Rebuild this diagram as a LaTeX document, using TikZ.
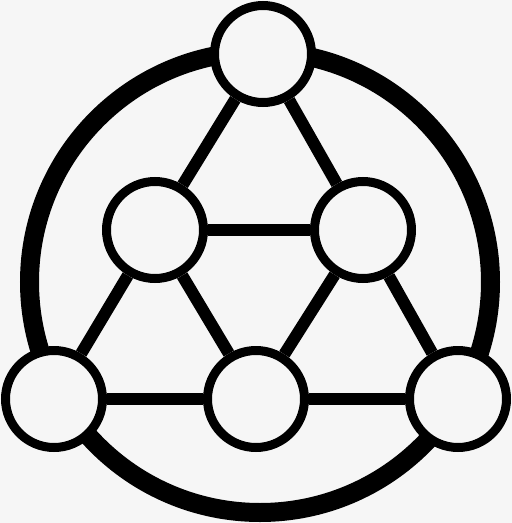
\documentclass[tikz,border=0pt]{standalone}
\definecolor{bgc}{RGB}{246,246,246}
\begin{document}
\begin{tikzpicture}[x=1pt,y=-1pt,
  ring/.style={circle,draw=black,line width=19pt,minimum size=461pt,inner sep=0pt},
  hub/.style={circle,draw=black,fill=bgc,line width=9pt,minimum size=97pt,inner sep=0pt},
  link/.style={draw=black,line width=12pt}]
\fill[bgc] (0,0) rectangle (512,523);
\useasboundingbox (0,0) rectangle (512,523);
\node[ring] (big) at (260,282) {};
\node[hub] (t) at (263,54) {};
\node[hub] (ml) at (155,230) {};
\node[hub] (mr) at (363,230) {};
\node[hub] (bl) at (54,399) {};
\node[hub] (bm) at (256,399) {};
\node[hub] (br) at (458,399) {};
\begin{scope}[on background layer/.try]
\end{scope}
\draw[link] (t) -- (ml);
\draw[link] (ml) -- (bl);
\draw[link] (t) -- (mr);
\draw[link] (mr) -- (br);
\draw[link] (bl) -- (bm);
\draw[link] (bm) -- (br);
\draw[link] (ml) -- (mr);
\draw[link] (ml) -- (bm);
\draw[link] (mr) -- (bm);
\end{tikzpicture}
\end{document}
